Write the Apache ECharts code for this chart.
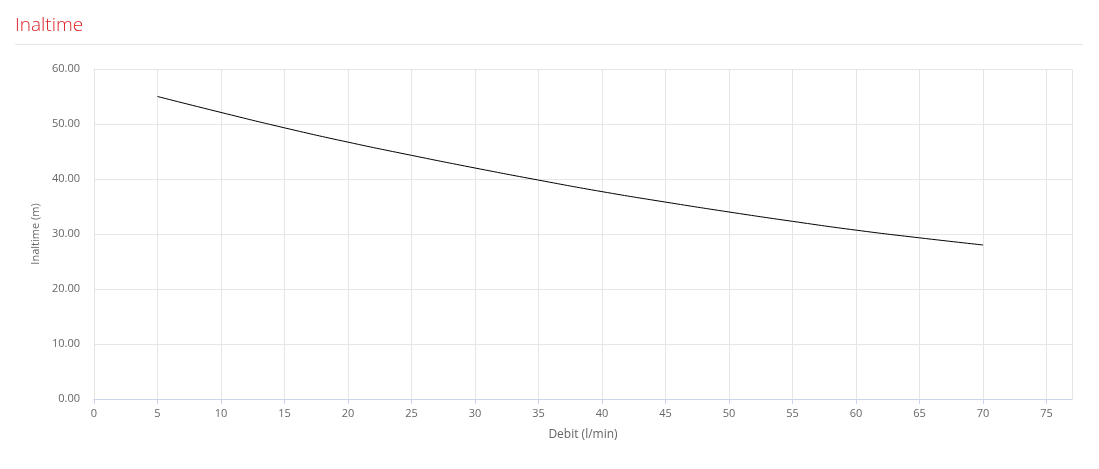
<!DOCTYPE html>
<html><head><meta charset="utf-8">
<script src="https://cdn.jsdelivr.net/npm/echarts@6/dist/echarts.min.js"></script>
<style>html,body{margin:0;padding:0;background:#fff}#c{width:1099px;height:469px}</style>
</head><body><div id="c"></div>
<script>
const flow = [5,10,15,20,25,30,35,40,45,50,55,60,65,70];
const head = [55.0,52.1,49.3,46.7,44.3,42.0,39.8,37.7,35.8,34.0,32.3,30.7,29.3,28.0];
const titleText = 'Inaltime';
const xName = 'Debit (l/min)';
const yName = 'Inaltime (m)';

const chart = echarts.init(document.getElementById('c'));
const font = '"Open Sans", sans-serif';
chart.setOption({
  animation:false,
  title:{text:titleText,left:10,top:11,textStyle:{color:'#dd1f26',fontFamily:font,fontWeight:300,fontSize:19}},
  graphic:[{type:'line',shape:{x1:15,y1:44.5,x2:1083,y2:44.5},style:{stroke:'#e6e6e6',lineWidth:1}}],
  grid:{left:94,right:27,top:69,bottom:70},
  xAxis:{type:'value',min:0,max:77,interval:5,name:xName,nameLocation:'middle',nameGap:30,
    nameTextStyle:{color:'#666',fontFamily:font,fontSize:12},
    axisLine:{lineStyle:{color:'#ccd6eb'}},axisTick:{show:true,length:5,lineStyle:{color:'#ccd6eb'}},
    axisLabel:{color:'#666',fontFamily:font,fontSize:11,margin:9,showMaxLabel:false},
    splitLine:{show:true,lineStyle:{color:'#e6e6e6'}}},
  yAxis:{type:'value',min:0,max:60,interval:10,name:yName,nameLocation:'middle',nameGap:51,
    nameTextStyle:{color:'#666',fontFamily:font,fontSize:11},
    axisLine:{show:false},axisTick:{show:false},
    axisLabel:{color:'#666',fontFamily:font,fontSize:11,margin:14,formatter:v=>v.toFixed(2)},
    splitLine:{show:true,lineStyle:{color:'#e6e6e6'}}},
  series:[{type:'line',data:flow.map((x,i)=>[x,head[i]]),smooth:true,showSymbol:false,
    lineStyle:{color:'#000',width:1}}]
});
</script></body></html>
